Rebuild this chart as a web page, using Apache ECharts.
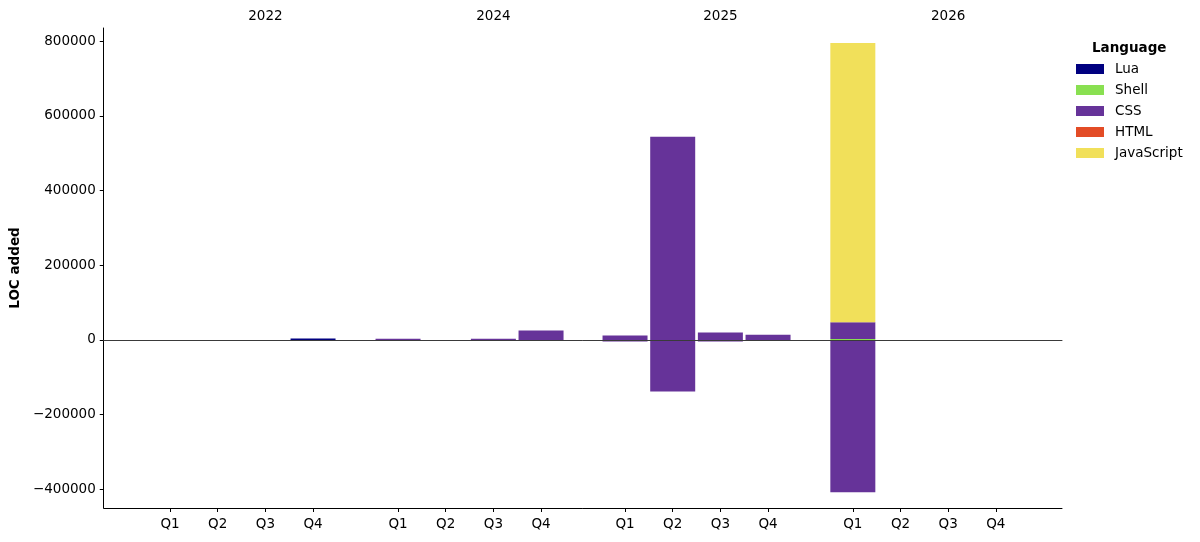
<!DOCTYPE html>
<html><head><meta charset="utf-8">
<script src="https://cdn.jsdelivr.net/npm/echarts@6/dist/echarts.min.js"></script>
<style>html,body{margin:0;padding:0;background:#fff}#c{width:1200px;height:542px}</style>
</head><body><div id="c"></div>
<script>
const years = ['2022', '2024', '2025', '2026'];
const quarters = ['Q1', 'Q2', 'Q3', 'Q4'];
const languages = ['Lua', 'Shell', 'CSS', 'HTML', 'JavaScript'];
const colors = ['#000080', '#89e051', '#663399', '#e34c26', '#f1e05a'];
// LOC added per quarter: 2022 Q1..Q4, 2024 Q1..Q4, 2025 Q1..Q4, 2026 Q1..Q4
const luaAdded   = [0, 0, 0, 3500,  0, 0, 0, 0,  0, 0, 0, 0,  0, 0, 0, 0];
const shellAdded = [0, 0, 0, 0,  0, 0, 0, 0,  0, 0, 0, 0,  2500, 0, 0, 0];
const cssAdded   = [0, 0, 0, 0,  3000, 0, 3000, 25000,  11500, 544000, 19500, 14000,  44500, 0, 0, 0];
const htmlAdded  = [0, 0, 0, 0,  0, 0, 0, 0,  0, 0, 0, 0,  0, 0, 0, 0];
const jsAdded    = [0, 0, 0, 0,  0, 0, 0, 0,  0, 0, 0, 0,  748000, 0, 0, 0];
// LOC removed (drawn below zero)
const cssRemoved = [0, 0, 0, 0,  0, 0, 0, 0,  -4500, -138000, -4500, 0,  -408000, 0, 0, 0];
const yTicks = [-400000, -200000, 0, 200000, 400000, 600000, 800000];
const yMin = -450000, yMax = 835000;

const addedByLang = [luaAdded, shellAdded, cssAdded, htmlAdded, jsAdded];
const removedByLang = [null, null, cssRemoved, null, null];

// layout
const FONT = 'DejaVu Sans';
const FS = 13.5;
const plotTop = 28, plotH = 480, plotLeft = 103, plotW = 959;
const slotW = 47.67;
const groupLeft = [146.2, 374.2, 601.2, 829.0];

const grids = [{left: plotLeft, top: plotTop, width: plotW, height: plotH}];
const xAxes = [
  {gridIndex: 0, type: 'value', min: 0, max: 1, position: 'bottom',
   axisLine: {show: true, onZero: false, lineStyle: {color: '#000', width: 1}},
   axisTick: {show: false}, axisLabel: {show: false}, splitLine: {show: false}},
  {gridIndex: 0, type: 'value', min: 0, max: 1, position: 'bottom', z: 10,
   axisLine: {show: true, onZero: true, lineStyle: {color: '#3a3a3a', width: 1}},
   axisTick: {show: false}, axisLabel: {show: false}, splitLine: {show: false}}
];
const yAxes = [
  {gridIndex: 0, type: 'value', min: yMin, max: yMax,
   name: 'LOC added', nameLocation: 'middle', nameGap: 80, nameRotate: 90,
   nameTextStyle: {fontFamily: FONT, fontSize: FS, fontWeight: 'bold', color: '#000'},
   axisLine: {show: true, lineStyle: {color: '#000', width: 1}},
   axisTick: {show: true, length: 4, customValues: yTicks, lineStyle: {color: '#000'}},
   axisLabel: {customValues: yTicks, margin: 8, fontFamily: FONT, fontSize: FS, color: '#000',
     formatter: v => String(v).replace('-', '\u2212')},
   splitLine: {show: false}}
];
const series = [];
years.forEach((yr, gi) => {
  grids.push({left: groupLeft[gi], top: plotTop, width: slotW * 4, height: plotH});
  xAxes.push({gridIndex: gi + 1, type: 'category', data: quarters, position: 'bottom', z: 5,
    axisLine: {show: true, onZero: false, lineStyle: {color: '#000', width: 1}},
    axisTick: {show: true, inside: false, interval: 0, alignWithLabel: true, length: 4,
      lineStyle: {color: '#000', width: 1}},
    axisLabel: {margin: 9, interval: 0, fontFamily: FONT, fontSize: FS, color: '#000'}});
  xAxes.push({gridIndex: gi + 1, type: 'category', data: quarters, position: 'top',
    axisLine: {show: false, onZero: false}, axisTick: {show: false},
    axisLabel: {margin: 5, interval: 0, fontFamily: FONT, fontSize: FS, color: '#000',
      formatter: (v, i) => (i === 2 ? yr : '')}});
  yAxes.push({gridIndex: gi + 1, type: 'value', min: yMin, max: yMax, show: false,
    splitLine: {show: false}});
  const xi = 2 + gi * 2, yi = 1 + gi;
  languages.forEach((lang, li) => {
    series.push({type: 'bar', name: lang, xAxisIndex: xi, yAxisIndex: yi,
      stack: 'g' + gi, barWidth: 45, itemStyle: {color: colors[li]},
      data: addedByLang[li].slice(gi * 4, gi * 4 + 4)});
    if (removedByLang[li]) {
      series.push({type: 'bar', name: lang, xAxisIndex: xi, yAxisIndex: yi,
        stack: 'g' + gi, barWidth: 45, itemStyle: {color: colors[li]},
        data: removedByLang[li].slice(gi * 4, gi * 4 + 4)});
    }
  });
});

const chart = echarts.init(document.getElementById('c'), null, {renderer: 'canvas'});
chart.setOption({
  animation: false,
  backgroundColor: '#fff',
  title: {text: 'Language', left: 1092, top: 41, padding: 0,
    textStyle: {fontFamily: FONT, fontSize: FS, fontWeight: 'bold', color: '#000'}},
  legend: {data: languages, orient: 'vertical', left: 1076, top: 62, padding: 0,
    icon: 'rect', itemWidth: 28, itemHeight: 10, itemGap: 7,
    textStyle: {fontFamily: FONT, fontSize: FS, color: '#000', padding: [0, 0, 0, 6]}},
  grid: grids, xAxis: xAxes, yAxis: yAxes, series: series
});
</script></body></html>
